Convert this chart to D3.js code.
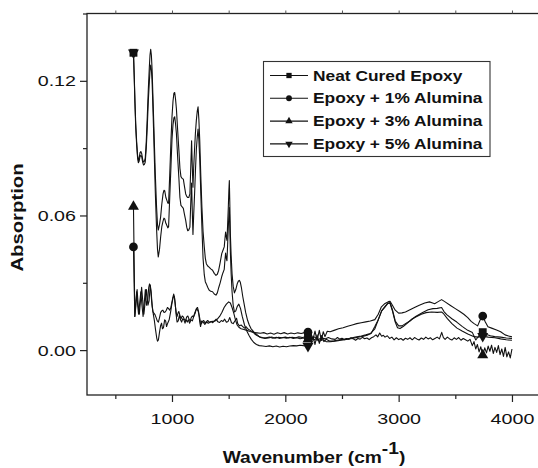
<!DOCTYPE html>
<html>
<head>
<meta charset="utf-8">
<script src="https://d3js.org/d3.v7.min.js"></script>
<style>
  body { margin: 0; background: #fff; }
  svg { display: block; }
  text { font-family: "Liberation Sans", Arial, sans-serif; fill: #111; }
</style>
</head>
<body>
<div id="chart"></div>
<script>
// FTIR spectra, [wavenumber, absorption]
const neatCured = [[660,0.1325],[667,0.122],[673,0.111],[680,0.101],[688,0.093],[696,0.087],[703,0.0845],[710,0.0855],[718,0.088],[725,0.0885],[733,0.0875],[741,0.085],[749,0.0838],[757,0.0842],[764,0.0855],[773,0.093],[782,0.104],[791,0.116],[800,0.126],[806,0.1315],[812,0.134],[818,0.1315],[824,0.1255],[833,0.111],[842,0.0963],[853,0.078],[864,0.0637],[872,0.056],[879,0.0535],[890,0.056],[900,0.0595],[910,0.065],[921,0.0696],[929,0.0712],[936,0.071],[946,0.068],[955,0.0667],[963,0.0655],[970,0.0655],[980,0.078],[991,0.0933],[1000,0.104],[1009,0.111],[1017,0.1145],[1024,0.1148],[1031,0.112],[1039,0.1075],[1050,0.098],[1061,0.0889],[1070,0.081],[1079,0.0773],[1090,0.0765],[1100,0.0762],[1110,0.073],[1121,0.0696],[1130,0.0685],[1139,0.068],[1148,0.068],[1158,0.0696],[1166,0.082],[1173,0.0933],[1179,0.082],[1185,0.0726],[1192,0.082],[1200,0.0904],[1207,0.097],[1215,0.1025],[1223,0.1065],[1230,0.1084],[1237,0.103],[1245,0.0933],[1254,0.078],[1264,0.0637],[1274,0.053],[1285,0.0459],[1294,0.041],[1303,0.0385],[1315,0.0375],[1327,0.037],[1342,0.0362],[1358,0.0356],[1373,0.0342],[1388,0.0333],[1400,0.0338],[1412,0.0356],[1425,0.039],[1439,0.043],[1450,0.0445],[1461,0.046],[1467,0.0495],[1473,0.0526],[1479,0.0505],[1485,0.0489],[1491,0.056],[1497,0.0637],[1502,0.0712],[1506,0.0756],[1510,0.066],[1515,0.0519],[1522,0.042],[1530,0.034],[1540,0.0285],[1551,0.0255],[1563,0.027],[1576,0.0296],[1585,0.0307],[1594,0.0311],[1603,0.0302],[1612,0.028],[1624,0.024],[1636,0.0207],[1650,0.0168],[1667,0.0133],[1682,0.0112],[1697,0.0096],[1720,0.0082],[1742,0.0072],[1765,0.0062],[1790,0.0055],[1820,0.0052],[1850,0.0054],[1880,0.0058],[1910,0.0053],[1940,0.0057],[1970,0.0055],[2000,0.0058],[2030,0.0054],[2060,0.0057],[2090,0.0055],[2120,0.0059],[2150,0.0056],[2200,0.0062],[2225,0.0058],[2250,0.0045],[2275,0.0052],[2300,0.0040],[2330,0.0046],[2360,0.0038],[2395,0.0037],[2440,0.0040],[2490,0.0044],[2540,0.0048],[2590,0.0052],[2640,0.0057],[2690,0.0062],[2730,0.0068],[2757,0.0074],[2790,0.0105],[2818,0.0133],[2850,0.0175],[2879,0.0192],[2905,0.0208],[2924,0.0212],[2945,0.0180],[2970,0.0130],[3000,0.0108],[3030,0.0108],[3060,0.0118],[3100,0.0130],[3150,0.0150],[3212,0.0168],[3260,0.0180],[3303,0.0185],[3340,0.0186],[3379,0.0190],[3400,0.0172],[3424,0.0158],[3470,0.0140],[3513,0.0125],[3560,0.0106],[3610,0.0088],[3651,0.0078],[3681,0.0045],[3710,0.0065],[3742,0.0080],[3775,0.0070],[3810,0.0064],[3848,0.0060],[3900,0.0058],[3950,0.0054],[4000,0.0052]];

const alumina1 = [[660,0.046],[666,0.03],[672,0.015],[682,0.022],[692,0.027],[702,0.02],[712,0.016],[722,0.022],[732,0.028],[742,0.022],[752,0.016],[762,0.021],[775,0.027],[788,0.02],[798,0.022],[808,0.029],[816,0.026],[825,0.02],[835,0.016],[845,0.013],[855,0.009],[865,0.0055],[872,0.004],[880,0.0045],[890,0.008],[900,0.011],[908,0.012],[916,0.0095],[925,0.01],[935,0.0135],[944,0.013],[952,0.0105],[962,0.012],[975,0.0135],[988,0.017],[1000,0.021],[1010,0.0235],[1020,0.024],[1028,0.021],[1036,0.016],[1045,0.0125],[1055,0.013],[1065,0.0155],[1075,0.0135],[1085,0.0125],[1095,0.014],[1105,0.0135],[1115,0.012],[1125,0.0135],[1135,0.0125],[1145,0.0135],[1155,0.012],[1168,0.0135],[1180,0.013],[1192,0.015],[1205,0.0165],[1215,0.0185],[1225,0.019],[1235,0.017],[1245,0.0125],[1252,0.0105],[1262,0.013],[1275,0.0125],[1290,0.0115],[1305,0.0125],[1320,0.012],[1340,0.0125],[1360,0.0128],[1380,0.013],[1400,0.0138],[1420,0.015],[1440,0.0168],[1460,0.019],[1480,0.0205],[1500,0.0215],[1515,0.021],[1530,0.019],[1545,0.0165],[1560,0.0135],[1575,0.0112],[1590,0.0102],[1610,0.0095],[1635,0.0092],[1660,0.0088],[1690,0.0083],[1720,0.0079],[1750,0.0077],[1780,0.0075],[1810,0.0078],[1840,0.0072],[1870,0.0076],[1900,0.0071],[1930,0.0077],[1960,0.0073],[1990,0.0078],[2020,0.0072],[2050,0.0076],[2080,0.0073],[2110,0.0077],[2140,0.0074],[2170,0.0078],[2200,0.0080],[2225,0.0075],[2245,0.0050],[2262,0.0085],[2280,0.0042],[2300,0.0088],[2318,0.0045],[2335,0.0082],[2350,0.0060],[2370,0.0084],[2395,0.0082],[2430,0.0088],[2470,0.0095],[2510,0.0100],[2550,0.0106],[2590,0.0112],[2630,0.0118],[2670,0.0122],[2710,0.0126],[2750,0.0130],[2790,0.0136],[2820,0.0160],[2848,0.0193],[2880,0.0208],[2910,0.0216],[2924,0.0218],[2945,0.0200],[2970,0.0178],[3000,0.0165],[3030,0.0166],[3060,0.0170],[3100,0.0180],[3140,0.0190],[3182,0.0200],[3230,0.0210],[3272,0.0215],[3300,0.0210],[3318,0.0207],[3345,0.0215],[3379,0.0225],[3410,0.0215],[3454,0.0200],[3500,0.0185],[3540,0.0172],[3575,0.0160],[3610,0.0145],[3640,0.0128],[3666,0.0118],[3697,0.0108],[3720,0.0135],[3742,0.0152],[3765,0.0125],[3788,0.0104],[3820,0.0098],[3864,0.0090],[3900,0.0082],[3939,0.0068],[3970,0.0063],[4000,0.0059]];

const alumina3 = [[660,0.064],[666,0.04],[672,0.015],[680,0.019],[688,0.026],[697,0.02],[705,0.016],[715,0.021],[725,0.026],[735,0.02],[745,0.015],[755,0.021],[765,0.027],[775,0.02],[785,0.022],[795,0.028],[802,0.0295],[808,0.0285],[814,0.026],[820,0.022],[826,0.019],[832,0.017],[840,0.0165],[850,0.0158],[860,0.0145],[870,0.013],[880,0.0125],[890,0.0145],[900,0.0168],[910,0.0175],[920,0.0178],[930,0.0168],[940,0.017],[950,0.0178],[960,0.019],[970,0.0185],[980,0.0178],[990,0.019],[1000,0.0215],[1008,0.0235],[1015,0.025],[1022,0.0235],[1030,0.0195],[1038,0.0165],[1045,0.015],[1053,0.0165],[1060,0.0172],[1070,0.0155],[1080,0.014],[1090,0.0152],[1100,0.0148],[1110,0.0135],[1120,0.0132],[1130,0.0148],[1140,0.0152],[1150,0.0138],[1160,0.013],[1170,0.0145],[1180,0.0152],[1190,0.0148],[1200,0.0165],[1210,0.0178],[1220,0.0183],[1230,0.0175],[1240,0.0155],[1250,0.0128],[1260,0.0118],[1270,0.0128],[1280,0.0132],[1290,0.0122],[1300,0.0125],[1315,0.0132],[1330,0.0124],[1345,0.0128],[1360,0.0122],[1375,0.013],[1390,0.0138],[1405,0.0126],[1420,0.0123],[1435,0.0132],[1450,0.0128],[1465,0.0138],[1480,0.0124],[1495,0.0128],[1510,0.0145],[1525,0.0122],[1540,0.0118],[1555,0.013],[1570,0.0142],[1580,0.0118],[1595,0.0108],[1610,0.0112],[1625,0.0105],[1640,0.0098],[1655,0.0104],[1670,0.0094],[1690,0.0088],[1710,0.0082],[1730,0.0072],[1750,0.0065],[1775,0.0058],[1800,0.0056],[1830,0.0055],[1860,0.0058],[1890,0.0053],[1920,0.0057],[1950,0.0052],[1980,0.0056],[2010,0.0053],[2040,0.0057],[2070,0.0052],[2100,0.0055],[2130,0.0051],[2160,0.0054],[2200,0.0048],[2230,0.0052],[2260,0.0058],[2290,0.0046],[2320,0.0055],[2350,0.0050],[2380,0.0056],[2410,0.0050],[2440,0.0048],[2460,0.0056],[2480,0.0049],[2500,0.0053],[2520,0.0046],[2540,0.0052],[2560,0.0048],[2580,0.0055],[2600,0.0050],[2620,0.0044],[2640,0.0052],[2660,0.0049],[2680,0.0057],[2700,0.0051],[2720,0.0054],[2740,0.0047],[2760,0.0055],[2780,0.0060],[2800,0.0068],[2815,0.0059],[2833,0.0076],[2850,0.0062],[2865,0.0066],[2880,0.0058],[2900,0.0064],[2920,0.0052],[2940,0.0058],[2960,0.0046],[2980,0.0055],[3000,0.0047],[3020,0.0052],[3040,0.0044],[3060,0.0053],[3080,0.0048],[3100,0.0055],[3120,0.0046],[3140,0.0056],[3160,0.0050],[3180,0.0045],[3200,0.0054],[3220,0.0048],[3240,0.0058],[3260,0.0050],[3280,0.0055],[3300,0.0046],[3320,0.0052],[3340,0.0058],[3360,0.0050],[3380,0.0079],[3395,0.0056],[3410,0.0048],[3430,0.0058],[3450,0.0050],[3470,0.0045],[3490,0.0055],[3510,0.0048],[3530,0.0056],[3550,0.0044],[3570,0.0052],[3590,0.0046],[3610,0.0040],[3630,0.0048],[3650,0.0020],[3665,0.0038],[3680,0.0005],[3695,0.0025],[3710,-0.0008],[3725,0.0015],[3742,-0.0022],[3760,0.0010],[3775,-0.0012],[3790,0.0018],[3805,-0.0005],[3820,0.0022],[3835,-0.0015],[3850,0.0012],[3865,-0.0010],[3880,0.0020],[3895,-0.0020],[3910,0.0005],[3925,-0.0028],[3940,0.0012],[3955,-0.0030],[3970,-0.0008],[3985,-0.0035],[4000,0.0005]];

const alumina5 = [[660,0.1325],[667,0.121],[673,0.110],[680,0.099],[688,0.0915],[696,0.0858],[703,0.0835],[710,0.0842],[718,0.0862],[725,0.0868],[733,0.0862],[741,0.0838],[749,0.0825],[757,0.0828],[764,0.0838],[773,0.090],[782,0.0995],[791,0.111],[800,0.1195],[806,0.1245],[812,0.127],[818,0.125],[824,0.1205],[833,0.106],[842,0.090],[853,0.070],[864,0.054],[872,0.045],[879,0.0415],[890,0.045],[900,0.0505],[910,0.055],[921,0.0575],[929,0.0588],[936,0.0585],[946,0.0565],[955,0.0555],[963,0.0545],[970,0.055],[980,0.068],[991,0.082],[1000,0.094],[1009,0.1005],[1017,0.1035],[1024,0.104],[1031,0.101],[1039,0.0965],[1050,0.086],[1061,0.0765],[1070,0.068],[1079,0.0645],[1090,0.0638],[1100,0.0632],[1110,0.0605],[1121,0.0578],[1130,0.0548],[1139,0.0532],[1148,0.0535],[1158,0.0548],[1166,0.066],[1173,0.0745],[1179,0.062],[1185,0.0515],[1192,0.061],[1200,0.0705],[1207,0.080],[1215,0.0895],[1223,0.095],[1230,0.0985],[1237,0.094],[1245,0.085],[1254,0.070],[1264,0.0548],[1274,0.041],[1285,0.0335],[1294,0.0305],[1303,0.0295],[1315,0.028],[1327,0.0268],[1342,0.0262],[1358,0.026],[1373,0.025],[1388,0.0245],[1400,0.0255],[1412,0.0278],[1425,0.030],[1439,0.0328],[1450,0.0345],[1461,0.036],[1467,0.040],[1473,0.0432],[1479,0.041],[1485,0.0398],[1491,0.047],[1497,0.055],[1502,0.060],[1506,0.0635],[1510,0.055],[1515,0.044],[1522,0.034],[1530,0.026],[1540,0.020],[1551,0.017],[1563,0.0175],[1576,0.0195],[1590,0.0205],[1605,0.0185],[1620,0.015],[1640,0.0112],[1660,0.0085],[1680,0.0065],[1700,0.0048],[1720,0.0035],[1745,0.0025],[1770,0.002],[1800,0.0018],[1830,0.0016],[1860,0.0019],[1890,0.0015],[1920,0.0018],[1950,0.0014],[1980,0.0017],[2010,0.0015],[2040,0.0018],[2070,0.0020],[2100,0.0019],[2130,0.0022],[2160,0.0020],[2200,0.0018],[2225,0.0025],[2245,0.0060],[2262,0.0025],[2280,0.0068],[2300,0.0030],[2320,0.0065],[2340,0.0038],[2360,0.0048],[2395,0.0040],[2430,0.0042],[2470,0.0045],[2510,0.0048],[2550,0.0051],[2590,0.0055],[2630,0.0059],[2670,0.0063],[2710,0.0068],[2750,0.0074],[2790,0.0095],[2820,0.0135],[2850,0.0175],[2880,0.0195],[2905,0.0210],[2924,0.0208],[2945,0.0175],[2970,0.0125],[2990,0.0100],[3012,0.0096],[3040,0.0105],[3080,0.0122],[3121,0.0140],[3160,0.0150],[3200,0.0160],[3242,0.0167],[3290,0.0170],[3340,0.0168],[3379,0.0170],[3400,0.0160],[3430,0.0140],[3470,0.0118],[3515,0.0098],[3560,0.0085],[3610,0.0072],[3666,0.0060],[3700,0.0058],[3742,0.0062],[3790,0.0058],[3850,0.0055],[3900,0.0050],[3950,0.0046],[4000,0.0044]];

const seriesNames = ['Neat Cured Epoxy', 'Epoxy + 1% Alumina', 'Epoxy + 3% Alumina', 'Epoxy + 5% Alumina'];
const seriesData = [neatCured, alumina1, alumina3, alumina5];
const markerWavenumbers = [660, 2200, 3742];
const xTicks = [1000, 2000, 3000, 4000];
const xMinorTicks = [500, 1500, 2500, 3500];
const yTicks = [0, 0.06, 0.12];
const yMinorTicks = [0.03, 0.09, 0.15];

const width = 538, height = 468;
const plot = {left: 87, right: 540.3, top: 13.5, bottom: 395};
const stretch = 1.27;

const svg = d3.select('#chart').append('svg')
    .attr('width', width)
    .attr('height', height);

const x = d3.scaleLinear().domain([250, 4250]).range([plot.left, plot.right]);
const y = d3.scaleLinear().domain([-0.02, 0.15]).range([plot.bottom, plot.top]);

// symbols: square, circle, up triangle, down triangle
const symbolTypes = [d3.symbolSquare, d3.symbolCircle, d3.symbolTriangle, d3.symbolTriangle];
const symbolRotate = [0, 0, 0, 180];
const symbolSizes = [62, 60, 52, 52];

// frame
svg.append('rect')
    .attr('x', plot.left).attr('y', plot.top)
    .attr('width', plot.right - plot.left).attr('height', plot.bottom - plot.top)
    .attr('fill', 'none').attr('stroke', '#222').attr('stroke-width', 1.3);

// bottom axis
const xAxisG = svg.append('g').attr('transform', `translate(0,${plot.bottom})`)
    .call(d3.axisBottom(x).tickValues(xTicks).tickSize(7).tickSizeOuter(0).tickPadding(11)
        .tickFormat(d3.format('d')));
xAxisG.select('.domain').remove();
xAxisG.selectAll('line').attr('stroke', '#222').attr('stroke-width', 1.2);
xAxisG.selectAll('text')
    .style('font-size', '15.5px')
    .attr('fill', '#111')
    .attr('transform', `scale(${stretch},1)`);

const xMinorG = svg.append('g').attr('transform', `translate(0,${plot.bottom})`)
    .call(d3.axisBottom(x).tickValues(xMinorTicks).tickSize(4).tickSizeOuter(0).tickFormat(''));
xMinorG.select('.domain').remove();
xMinorG.selectAll('line').attr('stroke', '#222').attr('stroke-width', 1.2);

// top mirror ticks
const xTopG = svg.append('g').attr('transform', `translate(0,${plot.top})`)
    .call(d3.axisTop(x).tickValues(xTicks.concat(xMinorTicks)).tickSize(3).tickSizeOuter(0).tickFormat(''));
xTopG.select('.domain').remove();
xTopG.selectAll('line').attr('stroke', '#555').attr('stroke-width', 1);

// left axis
const yAxisG = svg.append('g').attr('transform', `translate(${plot.left},0)`)
    .call(d3.axisLeft(y).tickValues(yTicks).tickSize(7).tickSizeOuter(0).tickPadding(4)
        .tickFormat(d3.format('.2f')));
yAxisG.select('.domain').remove();
yAxisG.selectAll('line').attr('stroke', '#222').attr('stroke-width', 1.2);
yAxisG.selectAll('text')
    .style('font-size', '15.5px')
    .attr('fill', '#111')
    .each(function() {
        const tx = +this.getAttribute('x');
        d3.select(this).attr('x', 0).attr('transform', `translate(${tx},0) scale(${stretch},1)`);
    });

const yMinorG = svg.append('g').attr('transform', `translate(${plot.left},0)`)
    .call(d3.axisLeft(y).tickValues(yMinorTicks).tickSize(4).tickSizeOuter(0).tickFormat(''));
yMinorG.select('.domain').remove();
yMinorG.selectAll('line').attr('stroke', '#222').attr('stroke-width', 1.2);

// axis titles
const xTitle = svg.append('g')
    .attr('transform', `translate(314,463) scale(1.2,1)`)
    .append('text')
    .attr('text-anchor', 'middle')
    .style('font-size', '16px')
    .style('font-weight', 'bold');
xTitle.append('tspan').text('Wavenumber (cm');
xTitle.append('tspan').attr('dy', -9).text('-1');
xTitle.append('tspan').attr('dy', 9).text(')');

svg.append('g')
    .attr('transform', `translate(22.5,217.5) rotate(-90) scale(${stretch},1)`)
    .append('text')
    .attr('text-anchor', 'middle')
    .style('font-size', '16px')
    .style('font-weight', 'bold')
    .text('Absorption');

// spectra
const line = d3.line()
    .x(d => x(d[0]))
    .y(d => y(d[1]));

svg.append('g').selectAll('path')
    .data(seriesData)
    .join('path')
    .attr('d', line)
    .attr('fill', 'none')
    .attr('stroke', '#111')
    .attr('stroke-width', 1.1)
    .attr('stroke-linejoin', 'round');

// markers on the curves
const bisect = d3.bisector(d => d[0]).left;
function valueAt(series, wn) {
    const i = bisect(series, wn);
    if (i <= 0) return series[0][1];
    if (i >= series.length) return series[series.length - 1][1];
    const a = series[i - 1], b = series[i];
    const t = (wn - a[0]) / (b[0] - a[0]);
    return a[1] + t * (b[1] - a[1]);
}

seriesData.forEach((series, si) => {
    const sym = d3.symbol().type(symbolTypes[si]).size(symbolSizes[si]);
    svg.append('g').selectAll('path')
        .data(markerWavenumbers)
        .join('path')
        .attr('d', sym)
        .attr('fill', '#111')
        .attr('transform', wn => `translate(${x(wn)},${y(valueAt(series, wn))}) rotate(${symbolRotate[si]})`);
});

// legend
const legend = svg.append('g');
legend.append('rect')
    .attr('x', 263.5).attr('y', 61.5)
    .attr('width', 226.5).attr('height', 95)
    .attr('fill', '#fff').attr('stroke', '#333').attr('stroke-width', 1.1);

seriesNames.forEach((name, i) => {
    const base = 80.5 + i * 22.8;
    const ly = base - 5;
    legend.append('line')
        .attr('x1', 270).attr('x2', 308)
        .attr('y1', ly).attr('y2', ly)
        .attr('stroke', '#111').attr('stroke-width', 1.1);
    legend.append('path')
        .attr('d', d3.symbol().type(symbolTypes[i]).size(symbolSizes[i] * 0.45))
        .attr('fill', '#111')
        .attr('transform', `translate(289,${ly}) rotate(${symbolRotate[i]})`);
    legend.append('g')
        .attr('transform', `translate(313,${base}) scale(1.24,1)`)
        .append('text')
        .style('font-size', '14px')
        .style('font-weight', 'bold')
        .text(name);
});
</script>
</body>
</html>
